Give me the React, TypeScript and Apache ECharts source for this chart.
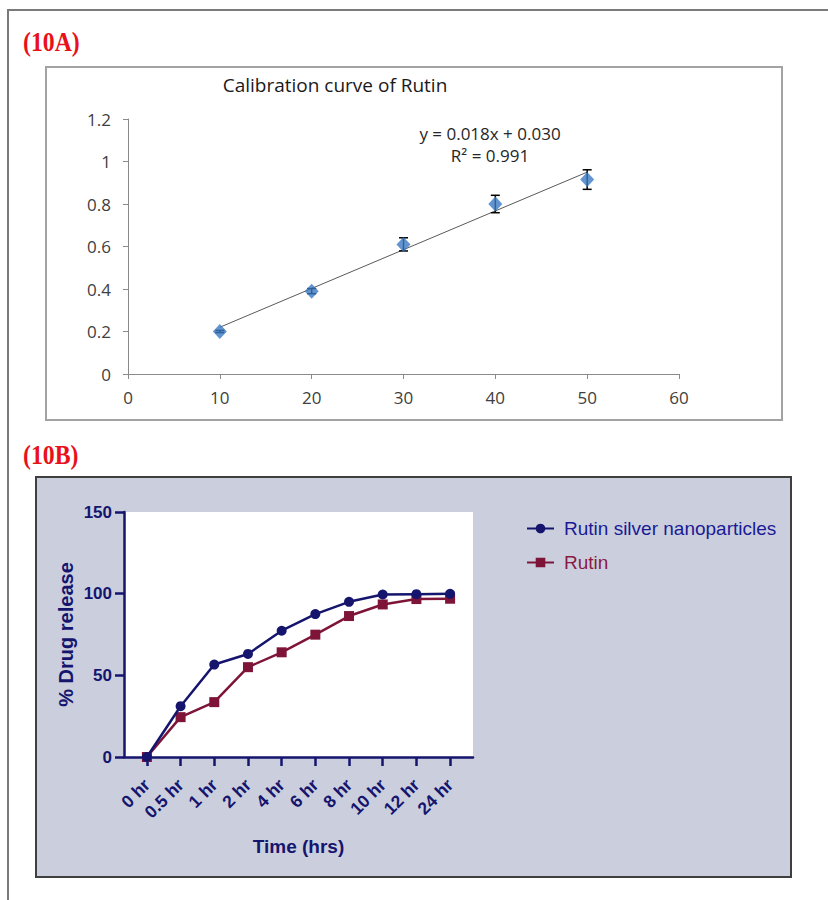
import React, { useEffect, useRef } from 'react';
import * as echarts from 'echarts';

// ---- Data: (10A) calibration curve ----
const concX = [10, 20, 30, 40, 50];
const absorbance = [0.2, 0.39, 0.61, 0.8, 0.915];
const absErr = [0.005, 0.012, 0.031, 0.041, 0.046];
const trendX = [10, 50];
const trendY = [0.22, 0.95];
const calXTicks = [0, 60, 10];
const calYTicks = [0, 1.2, 0.2];

// ---- Data: (10B) drug release ----
const timeLabels = ['0 hr', '0.5 hr', '1 hr', '2 hr', '4 hr', '6 hr', '8 hr', '10 hr', '12 hr', '24 hr'];
const agnpRelease = [0, 31.1, 56.6, 63.1, 77.3, 87.5, 95.0, 99.5, 99.7, 99.9];
const rutinRelease = [0, 24.4, 33.6, 55.0, 64.1, 74.9, 86.3, 93.4, 96.7, 96.9];
const releaseTicks = [0, 150, 50];

const NAVY = '#15156e';
const MAROON = '#7e1538';
const SANS = '"Liberation Sans", Arial, sans-serif';
const CAL = '"Open Sans", sans-serif';

function buildOption() {
  const idx = timeLabels.map((_, i) => i);
  return {
    animation: false,
    backgroundColor: '#ffffff',
    graphic: [
      { type: 'rect', z: -20, shape: { x: 8, y: 10, width: 900, height: 1000 }, style: { fill: '#fff', stroke: '#7a7a7a', lineWidth: 2 } },
      { type: 'rect', z: -15, shape: { x: 46, y: 67, width: 736, height: 353 }, style: { fill: '#fff', stroke: '#a3a3a3', lineWidth: 2 } },
      { type: 'rect', z: -15, shape: { x: 36, y: 477, width: 755, height: 400 }, style: { fill: '#cbcfdd', stroke: '#3f3f3f', lineWidth: 2 } },
      { type: 'text', x: 23, y: 42, scaleX: 0.88, style: { text: '(10A)', font: 'bold 27px "Liberation Serif", serif', fill: '#e8101a', textVerticalAlign: 'middle' } },
      { type: 'text', x: 23, y: 455, scaleX: 0.88, style: { text: '(10B)', font: 'bold 27px "Liberation Serif", serif', fill: '#e8101a', textVerticalAlign: 'middle' } },
      { type: 'text', x: 335, y: 85, style: { text: 'Calibration curve of Rutin', font: '19px ' + CAL, fill: '#1a1a1a', textAlign: 'center', textVerticalAlign: 'middle' } },
      { type: 'text', x: 490, y: 133, style: { text: 'y = 0.018x + 0.030', font: '17px ' + CAL, fill: '#262626', textAlign: 'center', textVerticalAlign: 'middle' } },
      { type: 'text', x: 490, y: 155, style: { text: 'R\u00b2 = 0.991', font: '17px ' + CAL, fill: '#262626', textAlign: 'center', textVerticalAlign: 'middle' } },
    ],
    grid: [
      { left: 128, top: 119, width: 551, height: 255, show: false },
      { left: 124, top: 512, width: 349, height: 245, show: true, backgroundColor: '#ffffff', borderWidth: 0 },
    ],
    legend: {
      orient: 'vertical',
      left: 521,
      top: 514,
      itemWidth: 27,
      itemHeight: 12,
      itemGap: 15,
      data: [
        { name: 'Rutin silver nanoparticles', textStyle: { color: '#1a1a96' } },
        { name: 'Rutin', textStyle: { color: '#8a1a45' } },
      ],
      textStyle: { fontSize: 19, fontFamily: SANS, padding: [0, 0, 0, 5] },
    },
    xAxis: [
      {
        type: 'value', gridIndex: 0, min: calXTicks[0], max: calXTicks[1], interval: calXTicks[2],
        axisLine: { show: true, lineStyle: { color: '#8a8a8a', width: 1 } },
        axisTick: { show: true, length: 5, lineStyle: { color: '#8a8a8a' } },
        axisLabel: { color: '#404040', fontSize: 17, fontFamily: CAL, margin: 15 },
        splitLine: { show: false },
      },
      {
        type: 'value', gridIndex: 1, min: -0.68, max: 9.68,
        axisLine: { show: true, onZero: false, lineStyle: { color: NAVY, width: 2.5 } },
        axisTick: { show: true, length: 9, customValues: idx, lineStyle: { color: NAVY, width: 2.5 } },
        axisLabel: {
          customValues: idx, rotate: 45, margin: 25, color: NAVY, fontSize: 17.5, fontWeight: 'bold', fontFamily: SANS,
          formatter: (v: number) => timeLabels[Math.round(v)] ?? '',
        },
        splitLine: { show: false },
        name: 'Time (hrs)', nameLocation: 'middle', nameGap: 80,
        nameTextStyle: { color: NAVY, fontSize: 19, fontWeight: 'bold', fontFamily: SANS },
      },
    ],
    yAxis: [
      {
        type: 'value', gridIndex: 0, min: calYTicks[0], max: calYTicks[1], interval: calYTicks[2],
        axisLine: { show: true, lineStyle: { color: '#8a8a8a', width: 1 } },
        axisTick: { show: true, length: 5, lineStyle: { color: '#8a8a8a' } },
        axisLabel: { color: '#404040', fontSize: 17, fontFamily: CAL, margin: 17 },
        splitLine: { show: false },
      },
      {
        type: 'value', gridIndex: 1, min: releaseTicks[0], max: releaseTicks[1], interval: releaseTicks[2],
        axisLine: { show: true, onZero: false, lineStyle: { color: NAVY, width: 2.5 } },
        axisTick: { show: true, length: 9, lineStyle: { color: NAVY, width: 2.5 } },
        axisLabel: { color: NAVY, fontSize: 17, fontWeight: 'bold', fontFamily: SANS, margin: 12 },
        splitLine: { show: false },
        name: '% Drug release', nameLocation: 'middle', nameGap: 48,
        nameTextStyle: { color: NAVY, fontSize: 20, fontWeight: 'bold', fontFamily: SANS },
      },
    ],
    series: [
      {
        type: 'line', xAxisIndex: 0, yAxisIndex: 0, silent: true,
        data: trendX.map((x, i) => [x, trendY[i]]),
        showSymbol: false, symbol: 'none',
        lineStyle: { color: '#595959', width: 1 }, z: 1,
      },
      {
        type: 'custom', xAxisIndex: 0, yAxisIndex: 0, z: 2,
        data: concX.map((x, i) => [x, absorbance[i], absErr[i]]),
        encode: { x: 0, y: 1 },
        renderItem: (params: any, api: any) => {
          const x = api.value(0), y = api.value(1), e = api.value(2);
          const top = api.coord([x, y + e]);
          const bot = api.coord([x, y - e]);
          const st = { stroke: '#000', lineWidth: 1.5 };
          return {
            type: 'group',
            children: [
              { type: 'line', shape: { x1: top[0], y1: top[1], x2: bot[0], y2: bot[1] }, style: st },
              { type: 'line', shape: { x1: top[0] - 4.5, y1: top[1], x2: top[0] + 4.5, y2: top[1] }, style: st },
              { type: 'line', shape: { x1: bot[0] - 4.5, y1: bot[1], x2: bot[0] + 4.5, y2: bot[1] }, style: st },
            ],
          };
        },
      },
      {
        type: 'scatter', xAxisIndex: 0, yAxisIndex: 0, z: 3,
        data: concX.map((x, i) => [x, absorbance[i]]),
        symbol: 'diamond', symbolSize: [14, 15],
        itemStyle: { color: '#3b79c4' },
      },
      {
        name: 'Rutin silver nanoparticles', type: 'line', xAxisIndex: 1, yAxisIndex: 1, z: 4,
        data: idx.map((i) => [i, agnpRelease[i]]),
        symbol: 'circle', symbolSize: 10,
        lineStyle: { color: NAVY, width: 2.5 }, itemStyle: { color: NAVY },
      },
      {
        name: 'Rutin', type: 'line', xAxisIndex: 1, yAxisIndex: 1, z: 3,
        data: idx.map((i) => [i, rutinRelease[i]]),
        symbol: 'rect', symbolSize: 10,
        lineStyle: { color: MAROON, width: 2.5 }, itemStyle: { color: MAROON },
      },
    ],
  };
}

export default function App() {
  const ref = useRef<HTMLDivElement>(null);
  useEffect(() => {
    if (!ref.current) return;
    const chart = echarts.init(ref.current, null, { renderer: 'svg' });
    chart.setOption(buildOption() as any);
    return () => chart.dispose();
  }, []);
  return (
    <div
      ref={ref}
      style={{ position: 'absolute', left: 0, top: 0, width: 828, height: 900, background: '#fff' }}
    />
  );
}
